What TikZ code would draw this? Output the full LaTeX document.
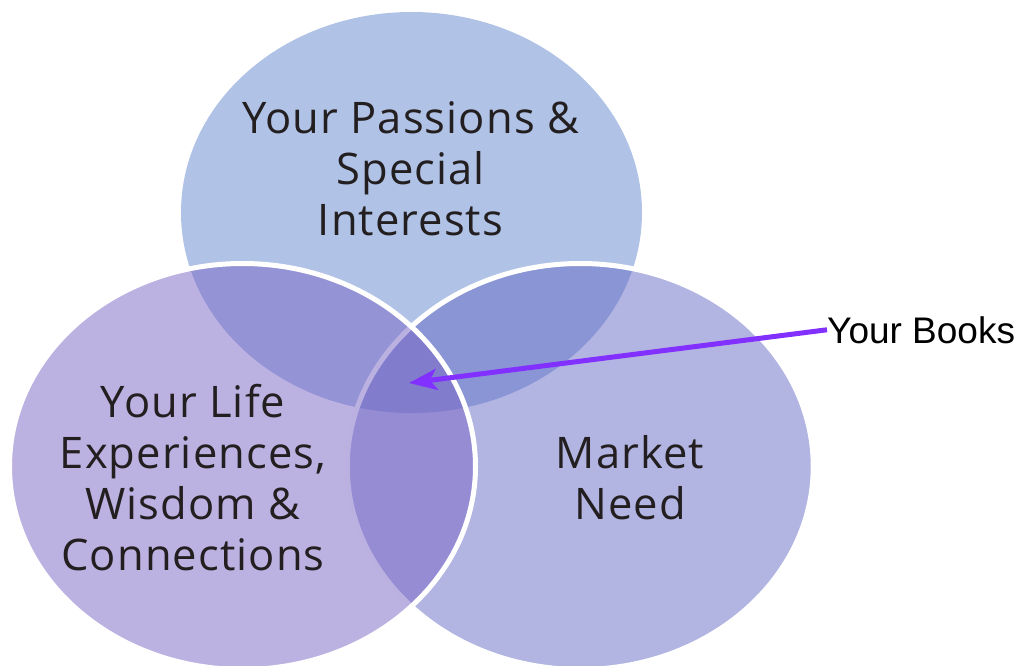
\documentclass[tikz,border=0pt]{standalone}
\usepackage{fontspec}
\setmainfont{Open Sans}[LetterSpace=2.5]
\newfontfamily\arialfont{Liberation Sans}
\usetikzlibrary{arrows.meta}
\definecolor{topc}{RGB}{97,133,205}
\definecolor{leftc}{RGB}{121,101,197}
\definecolor{rightc}{RGB}{101,105,197}
\definecolor{txt}{RGB}{35,31,32}
\definecolor{arrowc}{RGB}{130,48,255}
\tikzset{
  circ/.style={fill opacity=0.5},
  outlined/.style={draw=white, line width=5pt, draw opacity=1},
  lbl/.style={align=center, text=txt, inner sep=0pt, font=\fontsize{43.5}{51}\selectfont},
  pointer/.style={draw=arrowc, line width=5pt, -{Stealth[length=28pt, width=21pt, inset=7pt]}}
}
\begin{document}
\begin{tikzpicture}[x=1pt, y=-1pt]
\useasboundingbox (0,0) rectangle (1023,666);
\fill[circ, topc] (411.5,212.5) ellipse [x radius=230.5pt, y radius=200.5pt];
\filldraw[circ, fill=rightc, outlined] (580.25,466.5) ellipse [x radius=233pt, y radius=203pt];
\filldraw[circ, fill=leftc, outlined] (242.5,466.5) ellipse [x radius=233pt, y radius=203pt];
\node[lbl] (topL) at (410.5,169) {Your Passions \&\\Special\\Interests};
\node[lbl] (leftL) at (193,478) {Your Life\\Experiences,\\Wisdom \&\\Connections};
\node[lbl] (rightL) at (630,477.5) {Market\\Need};
\node[anchor=base west, inner sep=0pt, font=\arialfont\fontsize{37}{40}\selectfont] (books) at (827,343) {Your Books};
\coordinate (core) at (409,383);
\draw[pointer] (books.west) -- (core);
\end{tikzpicture}
\end{document}
